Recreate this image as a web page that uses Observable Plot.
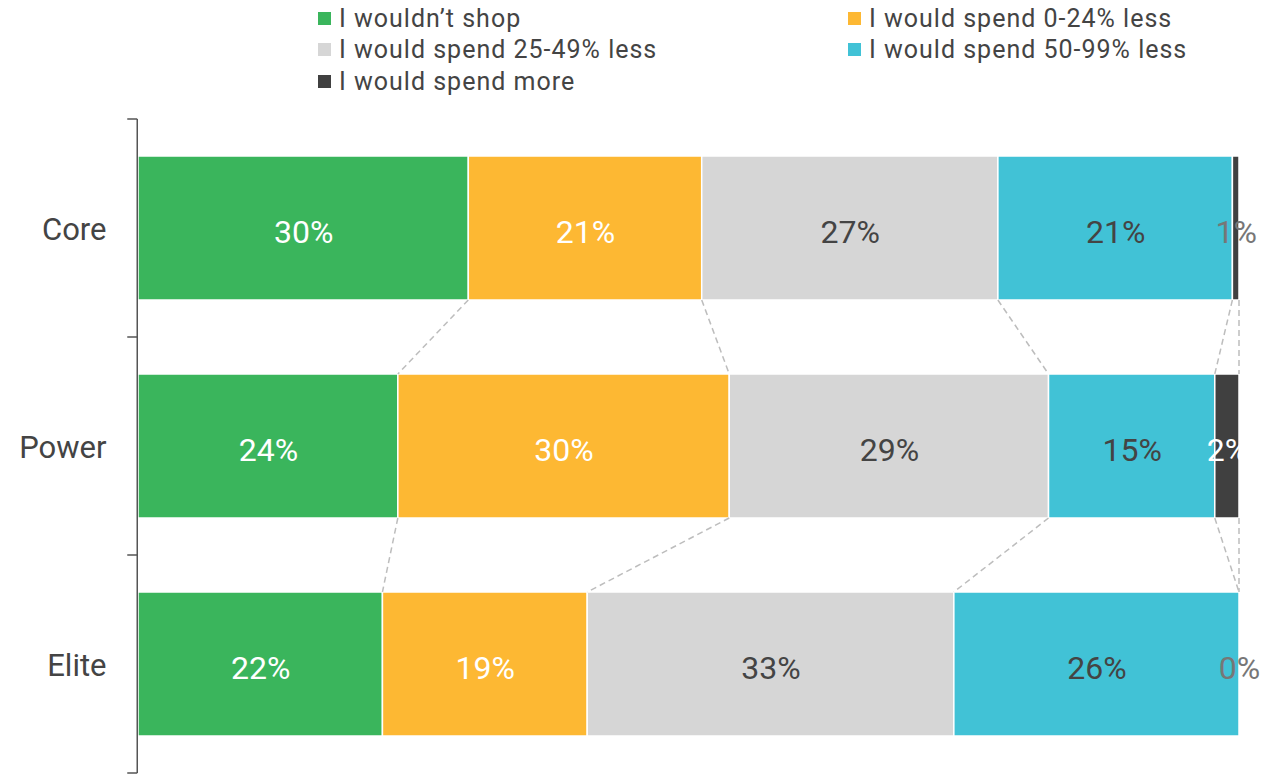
<!DOCTYPE html>
<html>
<head>
<meta charset="utf-8">
<script src="https://cdn.jsdelivr.net/npm/d3@7"></script>
<script src="https://cdn.jsdelivr.net/npm/@observablehq/plot@0.6"></script>
<style>
  html, body { margin: 0; padding: 0; background: #fff; }
  body { width: 1272px; height: 775px; overflow: hidden; font-family: Roboto, "Noto Sans", sans-serif; }
  #legend { position: relative; height: 100px; }
  .item { position: absolute; display: flex; align-items: center; font-size: 25px; letter-spacing: 1px; color: #444; white-space: nowrap; line-height: 1; }
  .sw { width: 13px; height: 13px; margin-right: 8px; flex: none; }
</style>
</head>
<body>
<div id="legend"></div>
<div id="chart"></div>
<script>
const categories = ["Core", "Power", "Elite"];
const seriesNames = [
  "I wouldn\u2019t shop",
  "I would spend 0-24% less",
  "I would spend 25-49% less",
  "I would spend 50-99% less",
  "I would spend more"
];
// values per series, in category order (Core, Power, Elite), percent
const wouldntShop   = [30.0, 23.6, 22.2];
const spend0to24    = [21.2, 30.1, 18.6];
const spend25to49   = [26.9, 29.0, 33.3];
const spend50to99   = [21.3, 15.1, 25.9];
const spendMore     = [0.6, 2.2, 0.0];
const seriesValues = [wouldntShop, spend0to24, spend25to49, spend50to99, spendMore];

const colors = ["#3AB55C", "#FDB833", "#D6D6D6", "#41C2D6", "#404040"];
const labelColors = ["#ffffff", "#ffffff", "#444444", "#444444", "#ffffff"];

const table = [];
categories.forEach((c, i) => {
  seriesNames.forEach((s, j) => {
    table.push({cat: c, series: s, si: j, value: seriesValues[j][i]});
  });
});

// legend
const legendPos = [
  [318, 18], [848, 18],
  [318, 49], [848, 49],
  [318, 81]
];
const legend = document.getElementById("legend");
seriesNames.forEach((s, j) => {
  const it = document.createElement("div");
  it.className = "item";
  it.style.left = legendPos[j][0] + "px";
  it.style.top = (legendPos[j][1] - 12) + "px";
  it.style.height = "24px";
  it.innerHTML = `<span class="sw" style="background:${colors[j]}"></span><span>${s}</span>`;
  legend.appendChild(it);
});

function decorations(index, scales, values, dims) {
  const x = scales.x, y = scales.y;
  const bw = y.bandwidth ? y.bandwidth() : 144;
  const step = y.step ? y.step() : 218.3;
  const g = d3.create("svg:g");
  // connectors
  for (let i = 0; i < categories.length - 1; i++) {
    let cu = 0, cl = 0;
    for (let j = 0; j < seriesValues.length; j++) {
      cu += seriesValues[j][i];
      cl += seriesValues[j][i + 1];
      g.append("line")
        .attr("x1", x(Math.min(cu, 100))).attr("y1", y(categories[i]) + bw)
        .attr("x2", x(Math.min(cl, 100))).attr("y2", y(categories[i + 1]))
        .attr("stroke", "#bdbdbd").attr("stroke-width", 1.5)
        .attr("stroke-dasharray", "6,4");
    }
  }
  // y axis line with ticks at band boundaries
  const off = (step - bw) / 2;
  const top = y(categories[0]) - off;
  const bottom = y(categories[categories.length - 1]) + bw + off;
  const ax = dims.marginLeft - 0.75;
  g.append("line").attr("x1", ax).attr("x2", ax).attr("y1", top).attr("y2", bottom)
    .attr("stroke", "#555").attr("stroke-width", 1.5);
  const bounds = categories.map(c => y(c) - off).concat([bottom]);
  bounds.forEach(b => {
    g.append("line").attr("x1", ax - 10).attr("x2", ax).attr("y1", b).attr("y2", b)
      .attr("stroke", "#555").attr("stroke-width", 1.5);
  });
  return g.node();
}

const fmt = v => Math.round(v) + "%";

const chart = Plot.plot({
  width: 1272,
  height: 675,
  marginTop: 18,
  marginBottom: 2,
  marginLeft: 138,
  marginRight: 33,
  style: {fontFamily: "Roboto, 'Noto Sans', sans-serif", background: "white"},
  x: {domain: [0, 100], axis: null},
  y: {domain: categories, paddingInner: 0.34, paddingOuter: 0.17, axis: null, label: null},
  color: {domain: seriesNames, range: colors},
  marks: [
    Plot.barX(table, Plot.stackX({x: "value", y: "cat", fill: "series", stroke: "white", strokeWidth: 1.5})),
    decorations,
    Plot.text(table, Plot.stackX({
      x: "value", y: "cat",
      text: d => fmt(d.value),
      fill: d => d.value < 1 ? "#777777" : labelColors[d.si],
      fontSize: 32,
      dy: 4
    })),
    Plot.axisY({tickSize: 0, tickPadding: 32, fontSize: 31, color: "#444", fill: "#444", label: null, dy: 2})
  ]
});
document.getElementById("chart").appendChild(chart);
</script>
</body>
</html>
